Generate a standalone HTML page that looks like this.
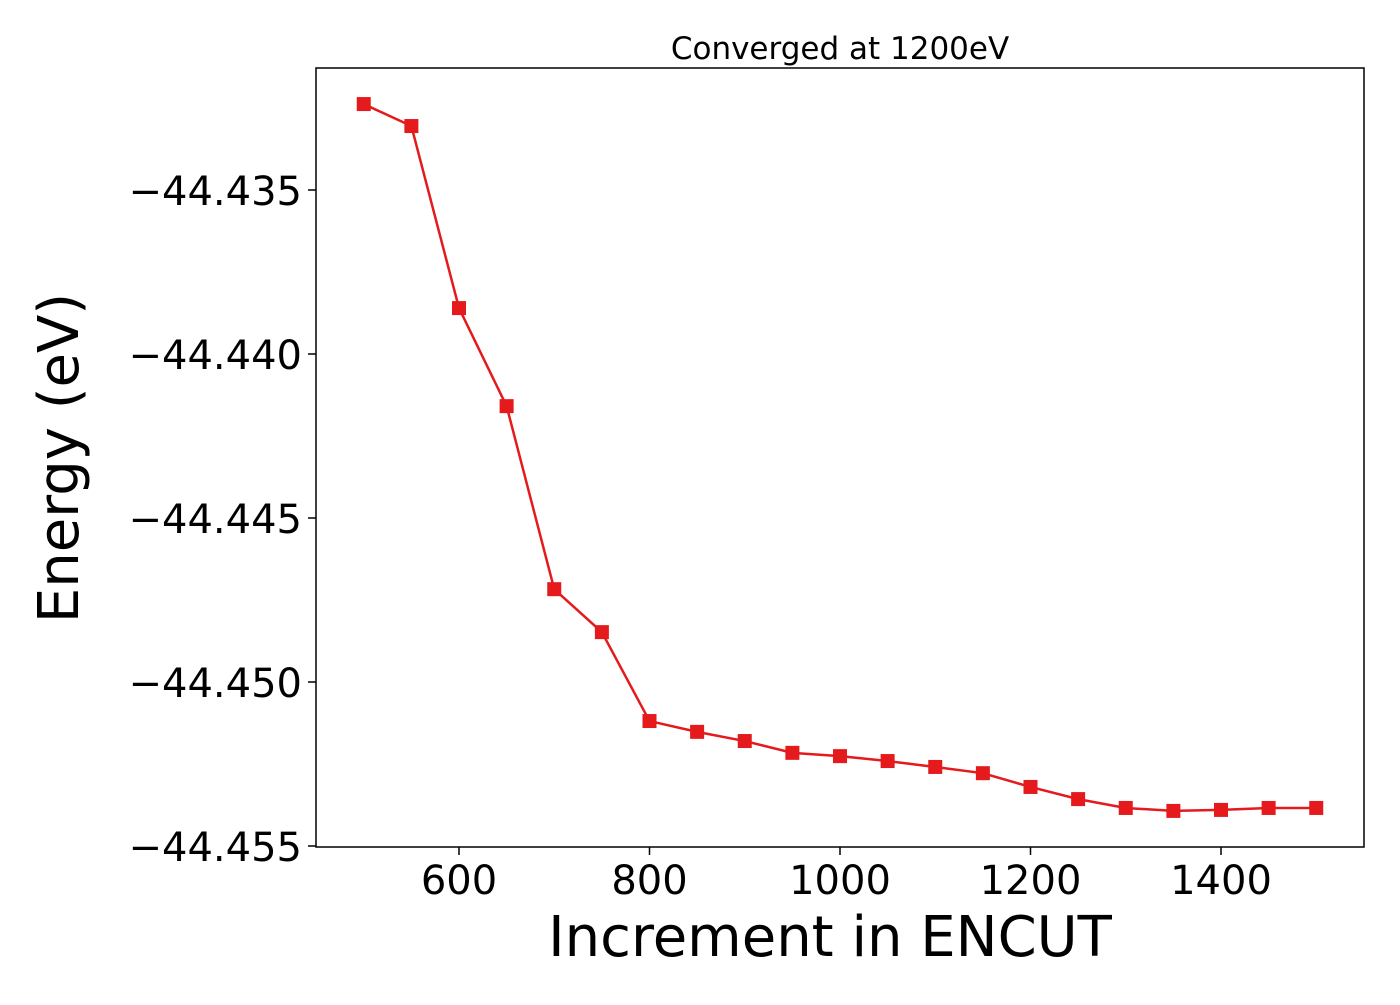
<!DOCTYPE html>
<html><head><meta charset="utf-8"><style>
body{margin:0;background:#fff}
svg text{font-family:"DejaVu Sans","Liberation Sans",sans-serif;fill:#000}
</style></head><body>
<svg id="chart" width="1400" height="1000" xmlns="http://www.w3.org/2000/svg">
<text x="840" y="59" font-size="31" text-anchor="middle">Converged at 1200eV</text>
<rect x="316" y="68" width="1048" height="779" fill="none" stroke="#000" stroke-width="1.5"/>
<g id="xticks"></g>
<g id="yticks"></g>
<g id="series"></g>
<text x="830" y="956" font-size="56" text-anchor="middle">Increment in ENCUT</text>
<text transform="translate(78,458) rotate(-90)" font-size="56" text-anchor="middle">Energy (eV)</text>
</svg>
<script>
const encut=[500,550,600,650,700,750,800,850,900,950,1000,1050,1100,1150,1200,1250,1300,1350,1400,1450,1500];
const energy=[-44.43238,-44.43305,-44.43860,-44.44159,-44.44717,-44.44848,-44.45119,-44.45152,-44.45180,-44.45216,-44.45226,-44.45241,-44.45259,-44.45278,-44.45320,-44.45357,-44.45384,-44.45393,-44.45390,-44.45384,-44.45384];
const xTicks=[600,800,1000,1200,1400];
const yTicks=[-44.435,-44.440,-44.445,-44.450,-44.455];
const NS="http://www.w3.org/2000/svg";
function xs(v){return 459+(v-600)*190.5/200;}
function ys(v){return 190+(-44.435-v)*164/0.005;}
const gx=document.getElementById('xticks'),gy=document.getElementById('yticks'),gs=document.getElementById('series');
function mk(t,a,p){const e=document.createElementNS(NS,t);for(const k in a)e.setAttribute(k,a[k]);p.appendChild(e);return e;}
xTicks.forEach(v=>{
 const l=mk('line',{x1:xs(v),x2:xs(v),y1:847,y2:855,stroke:'#000','stroke-width':1.5},gx);
 
 
 const t=mk('text',{x:xs(v),y:894,'font-size':40,'text-anchor':'middle'},gx);
 t.textContent=v;
 
 
});
yTicks.forEach(v=>{
 const l=mk('line',{x1:308,x2:316,y1:ys(v),y2:ys(v),stroke:'#000','stroke-width':1.5},gy);
 
 
 const t=mk('text',{x:302,y:ys(v)+15,'font-size':40,'text-anchor':'end'},gy);
 t.textContent='\u2212'+Math.abs(v).toFixed(3);
 
 
});
const pts=encut.map((e,i)=>xs(e)+','+ys(energy[i])).join(' ');
const pl=mk('polyline',{points:pts,fill:'none',stroke:'#e41a1c','stroke-width':2.5},gs);


encut.forEach((e,i)=>{
 const r=mk('rect',{x:xs(e)-7,y:ys(energy[i])-7,width:14,height:14,fill:'#e41a1c'},gs);
 
 
});
</script>
</body></html>
